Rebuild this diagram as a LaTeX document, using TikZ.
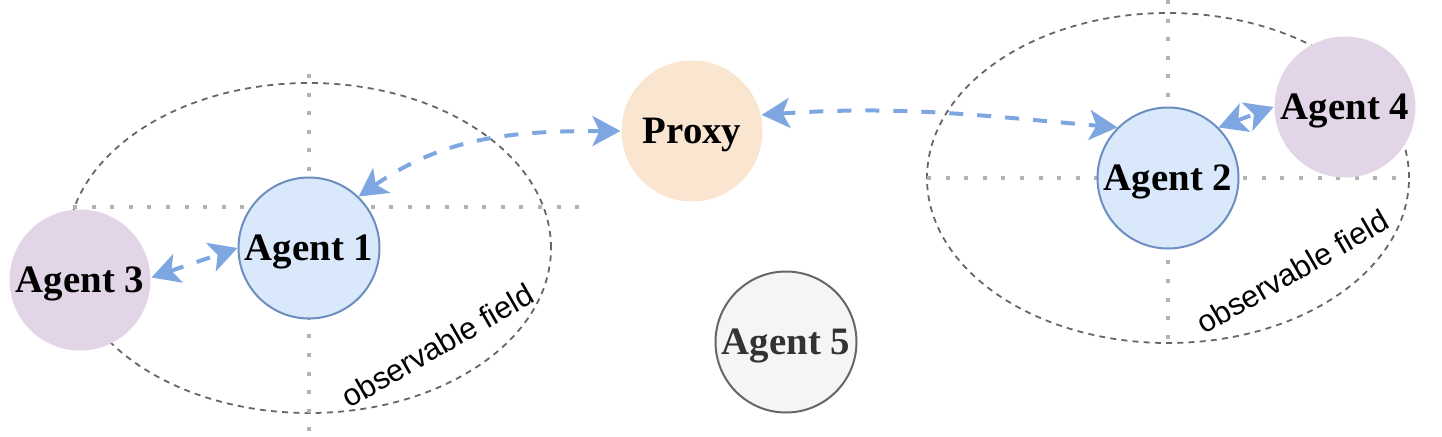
\documentclass[tikz,border=0pt]{standalone}
\usepackage{fontspec}
\setmainfont{Liberation Serif}
\setsansfont{Liberation Sans}
\usepackage{xcolor}
\usetikzlibrary{arrows.meta}
\definecolor{agentfill}{HTML}{DAE8FC}
\definecolor{agentline}{HTML}{6C8EBF}
\definecolor{peerfill}{HTML}{E1D5E7}
\definecolor{proxyfill}{HTML}{FAE6D0}
\definecolor{idlefill}{HTML}{F5F5F5}
\definecolor{idleline}{HTML}{666666}
\definecolor{idletext}{HTML}{333333}
\definecolor{linkblue}{HTML}{7EA6E0}
\definecolor{axisgray}{HTML}{B3B3B3}

\begin{document}
\begin{tikzpicture}[x=0.5pt, y=0.5pt,
            agent/.style={shape=circle, inner sep=0pt, minimum size=70.5pt, line width=1pt, text depth=0pt,
                font=\fontsize{19.4}{23}\selectfont\bfseries},
            field/.style={draw=idleline, line width=0.9pt, dash pattern=on 3pt off 2.6pt},
            axis/.style={draw=axisgray, line width=2pt, dash pattern=on 2pt off 7.3pt},
            link/.style={draw=linkblue, line width=2pt, dash pattern=on 7pt off 7pt,
                {Stealth[length=14pt, width=15pt, inset=3.5pt]}-{Stealth[length=14pt, width=15pt, inset=3.5pt]}},
            fieldlabel/.style={font=\fontsize{15.4}{18}\selectfont\sffamily, inner sep=0pt, anchor=base, rotate=30}]
        \useasboundingbox (0,0) rectangle (1442,-436);

        \draw[field] (309,-248) ellipse [x radius=242, y radius=165];
        \draw[axis] (309,-74) -- (309,-436);
        \draw[axis] (73,-207) -- (585,-207);

        \draw[field] (1168,-178) ellipse [x radius=241, y radius=165];
        \draw[axis] (1168,0) -- (1168,-342);
        \draw[axis] (927,-178) -- (1410,-178);

        \node[fieldlabel] (obs1) at (443,-355) {observable field};
        \node[fieldlabel] (obs2) at (1298,-281) {observable field};

        \node[agent, fill=agentfill, draw=agentline] (a1) at (309,-248) {Agent 1};
        \node[agent, fill=agentfill, draw=agentline] (a2) at (1168,-178) {Agent 2};
        \node[agent, fill=peerfill] (a3) at (80,-280) {Agent 3};
        \node[agent, fill=peerfill] (a4) at (1345,-107) {Agent 4};
        \node[agent, fill=idlefill, draw=idleline, text=idletext] (a5) at (786,-342) {Agent 5};
        \node[agent, fill=proxyfill] (proxy) at (692,-131) {Proxy};

        \draw[link] (a1.46) to[out=35, in=180] (proxy.west);
        \draw[link] (proxy.13) to[out=4, in=175] (a2.135);
        \draw[link] (a3.2) -- (a1.west);
        \draw[link] (a2.45) -- (a4.west);
\end{tikzpicture}
\end{document}
